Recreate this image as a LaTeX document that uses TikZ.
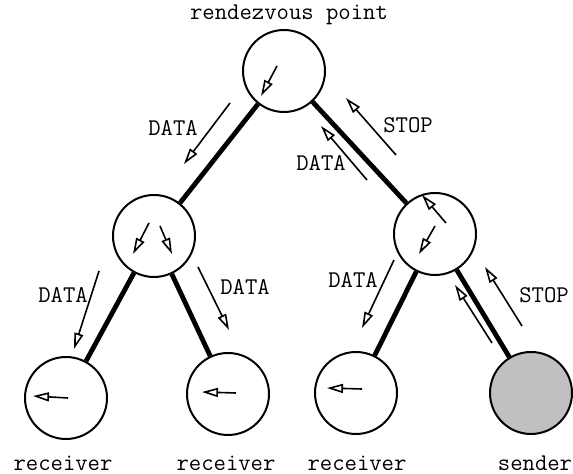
\documentclass[tikz,border=0pt]{standalone}
\usetikzlibrary{arrows.meta}
\definecolor{sendergray}{RGB}{192,192,192}
\begin{document}
\begin{tikzpicture}[x=0.5pt,y=-0.5pt,
  router/.style={circle,draw,line width=1pt,minimum size=41pt,inner sep=0pt},
  link/.style={line width=2.4pt},
  msg/.style={line width=0.8pt,-{Triangle[open,length=8pt,width=4.5pt]}},
  lbl/.style={font=\ttfamily\fontsize{12}{14}\selectfont}]
  \useasboundingbox (0,0) rectangle (573,474);

  %% The routers of the tree, the sender is filled.
  \node [router] (rp) at (284,71) {};
  \node [router] (ml) at (154,236) {};
  \node [router] (mr) at (435,234) {};
  \node [router] (r1) at (66,398) {};
  \node [router] (r2) at (228,394) {};
  \node [router] (r3) at (356,393) {};
  \node [router,fill=sendergray] (s) at (531,393) {};

  \node [lbl] (rplabel) at (289,15) {rendezvous point};
  \node [lbl] (r1label) at (63,463) {receiver};
  \node [lbl] (r2label) at (226,463) {receiver};
  \node [lbl] (r3label) at (357,463) {receiver};
  \node [lbl] (slabel) at (535,463) {sender};

  %% Thick links of the shared tree.
  \draw [link] (rp) -- (ml);
  \draw [link] (rp) -- (mr);
  \draw [link] (ml) -- (r1);
  \draw [link] (ml) -- (r2);
  \draw [link] (mr) -- (r3);
  \draw [link] (mr) -- (s);

  %% Packets inside the routers.
  \draw [msg] (277,66) -- (261,96);
  \draw [msg] (149,223) -- (133,254);
  \draw [msg] (160,226) -- (172,254);
  \draw [msg] (446,223) -- (422,195);
  \draw [msg] (435,226) -- (419,254);
  \draw [msg] (68,398) -- (33,396);
  \draw [msg] (236,393) -- (202,392);
  \draw [msg] (362,389) -- (327,388);

  %% Packets along the links.
  \draw [msg] (230,103) -- (184,164);
  \node [lbl] (d1) at (173,128) {DATA};
  \draw [msg] (367,180) -- (321,126);
  \node [lbl] (d2) at (321,163) {DATA};
  \draw [msg] (396,155) -- (346,98);
  \node [lbl] (s1) at (408,125) {STOP};

  \draw [msg] (99,271) -- (74,349);
  \node [lbl] (d3) at (63,295) {DATA};
  \draw [msg] (198,267) -- (229,330);
  \node [lbl] (d4) at (245,287) {DATA};
  \draw [msg] (394,260) -- (362,328);
  \node [lbl] (d5) at (353,280) {DATA};
  \draw [msg] (492,343) -- (455,285);
  \draw [msg] (522,326) -- (485,267);
  \node [lbl] (s2) at (544,295) {STOP};
\end{tikzpicture}
\end{document}
